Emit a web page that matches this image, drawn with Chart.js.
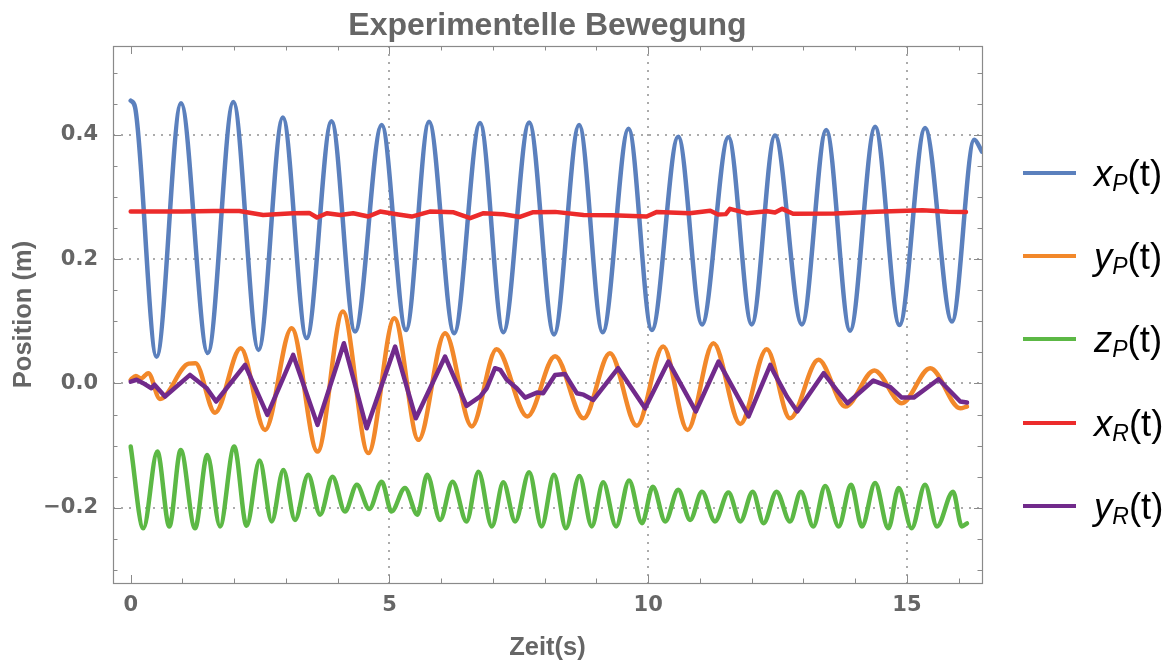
<!DOCTYPE html>
<html>
<head>
<meta charset="utf-8">
<script src="https://cdn.jsdelivr.net/npm/chart.js@4"></script>
<style>
  html, body { margin: 0; padding: 0; background: #ffffff; }
  #wrap { position: relative; width: 1168px; height: 663px; }
  #c { position: absolute; left: 0; top: 0; }
  .row { position: absolute; left: 1023px; height: 40px; display: flex; align-items: center; }
  .sw { display: block; width: 53px; height: 4px; }
  .lab { margin-left: 18px; font-family: "Liberation Sans", Arial, sans-serif; font-size: 36.5px; line-height: 40px; color: #000; position: relative; top: 1px; white-space: nowrap; }
  .lab sub { font-size: 23px; vertical-align: -5px; line-height: 0; }
</style>
</head>
<body>
<div id="wrap">
  <canvas id="c" width="1168" height="663"></canvas>
  <div id="legend"></div>
</div>
<script>
// ---------------- data ----------------
const seriesNames = ['xP(t)', 'yP(t)', 'zP(t)', 'xR(t)', 'yR(t)'];
const legendBase = ['x', 'y', 'z', 'x', 'y'];
const legendSub = ['P', 'P', 'P', 'R', 'R'];

const xP_t = [0, 0.083, 0.50, 0.972, 1.49, 1.983, 2.47, 2.94, 3.40, 3.88, 4.335, 4.85, 5.32, 5.765, 6.25, 6.75, 7.20, 7.70, 8.18, 8.665, 9.12, 9.62, 10.07, 10.58, 11.04, 11.55, 12.0, 12.45, 12.97, 13.44, 13.90, 14.385, 14.855, 15.35, 15.87, 16.30, 16.45];
const xP_v = [0.455, 0.445, 0.043, 0.451, 0.049, 0.453, 0.054, 0.428, 0.073, 0.422, 0.0835, 0.416, 0.086, 0.421, 0.081, 0.419, 0.0825, 0.42, 0.079, 0.416, 0.0825, 0.41, 0.086, 0.397, 0.095, 0.396, 0.095, 0.399, 0.095, 0.408, 0.085, 0.413, 0.094, 0.411, 0.0996, 0.392, 0.373];

const yP_t = [0, 0.1, 0.2, 0.34, 0.566, 1.12, 1.25, 1.63, 2.126, 2.596, 3.11, 3.61, 4.10, 4.59, 5.095, 5.56, 6.075, 6.59, 7.07, 7.665, 8.2, 8.75, 9.26, 9.78, 10.29, 10.76, 11.26, 11.78, 12.29, 12.74, 13.29, 13.81, 14.37, 14.9, 15.45, 16.03, 16.16];
const yP_v = [0.006, 0.012, 0.008, 0.0166, -0.025, 0.032, 0.0327, -0.047, 0.0568, -0.0747, 0.089, -0.1095, 0.1157, -0.112, 0.105, -0.0907, 0.081, -0.069, 0.055, -0.053, 0.044, -0.056, 0.0487, -0.068, 0.0594, -0.0747, 0.0648, -0.065, 0.055, -0.056, 0.038, -0.037, 0.0208, -0.0317, 0.0246, -0.04, -0.037];

const zP_t = [0, 0.244, 0.515, 0.746, 0.966, 1.243, 1.48, 1.726, 2.0, 2.24, 2.49, 2.725, 2.95, 3.175, 3.43, 3.66, 3.90, 4.14, 4.37, 4.61, 4.85, 5.04, 5.30, 5.54, 5.73, 5.98, 6.22, 6.49, 6.72, 6.98, 7.20, 7.43, 7.70, 7.94, 8.18, 8.41, 8.67, 8.91, 9.13, 9.38, 9.63, 9.88, 10.09, 10.33, 10.58, 10.81, 11.04, 11.29, 11.55, 11.78, 12.02, 12.23, 12.48, 12.74, 12.95, 13.19, 13.42, 13.68, 13.92, 14.13, 14.385, 14.64, 14.84, 15.09, 15.35, 15.58, 15.89, 16.06, 16.16];
const zP_v = [-0.1015, -0.233, -0.1095, -0.230, -0.107, -0.233, -0.115, -0.230, -0.1015, -0.229, -0.124, -0.222, -0.139, -0.2195, -0.147, -0.211, -0.15, -0.206, -0.163, -0.202, -0.158, -0.206, -0.168, -0.211, -0.147, -0.2195, -0.158, -0.222, -0.142, -0.230, -0.159, -0.222, -0.143, -0.230, -0.147, -0.233, -0.1487, -0.230, -0.159, -0.230, -0.156, -0.2248, -0.166, -0.222, -0.171, -0.2195, -0.174, -0.222, -0.1755, -0.222, -0.174, -0.2248, -0.174, -0.222, -0.174, -0.230, -0.1648, -0.230, -0.163, -0.230, -0.160, -0.233, -0.168, -0.233, -0.163, -0.230, -0.174, -0.230, -0.225];

const xR_t = [0, 1.0, 1.6, 2.1, 2.56, 3.14, 3.45, 3.6, 3.79, 4.05, 4.3, 4.59, 4.82, 5.14, 5.43, 5.78, 6.24, 6.56, 6.82, 7.2, 7.52, 7.78, 8.2, 8.75, 9.3, 9.97, 10.17, 10.8, 11.2, 11.35, 11.5, 11.58, 11.9, 12.3, 12.45, 12.59, 12.8, 13.6, 14.4, 15.3, 15.8, 16.14];
const xR_v = [0.2766, 0.2766, 0.2775, 0.2775, 0.271, 0.274, 0.2745, 0.267, 0.274, 0.271, 0.274, 0.2686, 0.2766, 0.2724, 0.2686, 0.2766, 0.2755, 0.266, 0.274, 0.2724, 0.268, 0.2756, 0.2761, 0.271, 0.2705, 0.2686, 0.2761, 0.274, 0.278, 0.272, 0.2725, 0.281, 0.274, 0.277, 0.275, 0.281, 0.273, 0.2735, 0.2765, 0.2786, 0.2765, 0.276];

const yR_t = [0, 0.115, 0.24, 0.40, 0.46, 0.663, 1.146, 1.47, 1.65, 2.21, 2.64, 3.14, 3.61, 4.12, 4.56, 5.11, 5.51, 6.075, 6.49, 6.75, 6.88, 7.04, 7.14, 7.27, 7.46, 7.62, 7.85, 7.97, 8.2, 8.39, 8.62, 8.75, 8.94, 9.42, 9.94, 10.39, 10.92, 11.36, 11.94, 12.36, 12.42, 12.68, 12.88, 13.39, 13.64, 13.85, 14.35, 14.68, 14.9, 15.13, 15.61, 16.03, 16.16];
const yR_v = [0.003, 0.006, 0.0005, -0.0076, -0.002, -0.021, 0.0138, -0.0076, -0.029, 0.03, -0.0505, 0.046, -0.0666, 0.0648, -0.072, 0.0594, -0.056, 0.0433, -0.036, -0.021, -0.0076, 0.0246, 0.022, 0.0058, -0.0076, -0.0227, -0.0146, -0.0156, 0.0138, 0.0154, -0.0156, -0.018, -0.0264, 0.0246, -0.04, 0.0353, -0.045, 0.0353, -0.053, 0.03, 0.019, -0.021, -0.045, 0.0166, -0.0103, -0.0317, 0.0047, -0.006, -0.0227, -0.0227, 0.0069, -0.029, -0.0307];

// axis ticks
const xMajorTicks = [0, 5, 10, 15];
const xMinorTicks = [0, 1, 2, 3, 4, 5, 6, 7, 8, 9, 10, 11, 12, 13, 14, 15, 16];
const yMajorTicks = [-0.2, 0, 0.2, 0.4];
const yMinorTicks = [-0.3, -0.25, -0.2, -0.15, -0.1, -0.05, 0, 0.05, 0.1, 0.15, 0.2, 0.25, 0.3, 0.35, 0.4, 0.45, 0.5];
const xRange = [-0.342, 16.45];
const yRange = [-0.321, 0.543];

// ---------------- styling ----------------
const colors = ['#5B80BD', '#F2882A', '#5CB845', '#EC2B2B', '#712A8B'];
const smooth = [true, true, true, false, false];
const drawOrder = [5, 4, 3, 2, 1];
const seriesT = [xP_t, yP_t, zP_t, xR_t, yR_t];
const seriesV = [xP_v, yP_v, zP_v, xR_v, yR_v];

const FONT = '"Liberation Sans", Arial, Helvetica, sans-serif';
const TICKFONT = '"DejaVu Sans", Verdana, sans-serif';
const GRAY = '#666666';

const datasets = seriesNames.map((name, i) => ({
  label: name,
  data: seriesT[i].map((t, k) => ({ x: t, y: seriesV[i][k] })),
  borderColor: colors[i],
  backgroundColor: colors[i],
  borderWidth: 4.5,
  pointRadius: 0,
  fill: false,
  tension: smooth[i] ? 0.4 : 0,
  cubicInterpolationMode: smooth[i] ? 'monotone' : 'default',
  borderJoinStyle: 'round',
  borderCapStyle: 'round',
  order: drawOrder[i]
}));

const framePlugin = {
  id: 'frame',
  afterDatasetsDraw(chart) {
    const { ctx, chartArea: a, scales: { x, y } } = chart;
    ctx.save();
    ctx.strokeStyle = '#8a8a8a';
    ctx.lineWidth = 1;
    ctx.beginPath();
    xMinorTicks.forEach(v => {
      const px = Math.round(x.getPixelForValue(v)) + 0.5;
      const len = xMajorTicks.includes(v) ? 8 : 4.5;
      ctx.moveTo(px, a.bottom); ctx.lineTo(px, a.bottom - len);
      ctx.moveTo(px, a.top); ctx.lineTo(px, a.top + len);
    });
    yMinorTicks.forEach(v => {
      const py = Math.round(y.getPixelForValue(v)) + 0.5;
      const len = yMajorTicks.includes(v) ? 8 : 4.5;
      ctx.moveTo(a.left, py); ctx.lineTo(a.left + len, py);
      ctx.moveTo(a.right, py); ctx.lineTo(a.right - len, py);
    });
    ctx.stroke();
    ctx.lineWidth = 1.2;
    ctx.strokeRect(Math.round(a.left) + 0.5, Math.round(a.top) + 0.5, Math.round(a.right - a.left), Math.round(a.bottom - a.top));
    ctx.restore();
  }
};

const tickFont = { family: TICKFONT, size: 21, weight: 'bold' };
const axisTitleFont = { family: FONT, size: 25.5, weight: 'bold' };

const chart = new Chart(document.getElementById('c'), {
  type: 'line',
  data: { datasets },
  plugins: [framePlugin],
  options: {
    responsive: false,
    animation: false,
    devicePixelRatio: 1,
    events: [],
    layout: { padding: { left: 0, right: 186, top: 0, bottom: 0 } },
    plugins: {
      legend: { display: false },
      tooltip: { enabled: false },
      title: {
        display: true,
        text: 'Experimentelle Bewegung',
        fullSize: false,
        color: GRAY,
        font: { family: FONT, size: 32, weight: 'bold' },
        padding: { top: 7, bottom: 0.6 }
      }
    },
    scales: {
      x: {
        type: 'linear',
        min: xRange[0],
        max: xRange[1],
        afterBuildTicks: s => { s.ticks = xMajorTicks.map(v => ({ value: v })); },
        afterFit: s => { s.height = 80; },
        border: { display: false, dash: [2, 6] },
        grid: {
          drawTicks: false,
          lineWidth: 2,
          color: c => (c.tick && c.tick.value === 0) ? 'rgba(0,0,0,0)' : '#ababab'
        },
        ticks: {
          padding: 10,
          color: GRAY,
          font: tickFont,
          maxRotation: 0,
          autoSkip: false,
          callback: v => String(v)
        },
        title: { display: true, text: 'Zeit(s)', color: GRAY, font: axisTitleFont, padding: { top: 0, bottom: 0 } }
      },
      y: {
        type: 'linear',
        min: yRange[0],
        max: yRange[1],
        afterBuildTicks: s => { s.ticks = yMajorTicks.map(v => ({ value: v })); },
        afterFit: s => { s.width = 113; },
        border: { display: false, dash: [2, 6] },
        grid: { drawTicks: false, lineWidth: 2, color: '#ababab' },
        ticks: {
          padding: 15,
          color: GRAY,
          font: tickFont,
          autoSkip: false,
          callback: v => v === 0 ? '0.0' : (v < 0 ? '\u2212' : '') + Math.abs(v).toFixed(1)
        },
        title: { display: true, text: 'Position (m)', color: GRAY, font: axisTitleFont, padding: { top: 9, bottom: 0 } }
      }
    }
  }
});

// HTML legend (real text with subscripts)
const legendEl = document.getElementById('legend');
chart.data.datasets.forEach((ds, i) => {
  const row = document.createElement('div');
  row.className = 'row';
  row.style.top = (172.7 + i * 83.3 - 20) + 'px';
  const sw = document.createElement('span');
  sw.className = 'sw';
  sw.style.background = ds.borderColor;
  const lab = document.createElement('span');
  lab.className = 'lab';
  lab.innerHTML = '<i>' + legendBase[i] + '</i><sub><i>' + legendSub[i] + '</i></sub>(t)';
  row.appendChild(sw);
  row.appendChild(lab);
  legendEl.appendChild(row);
});
</script>
</body>
</html>
